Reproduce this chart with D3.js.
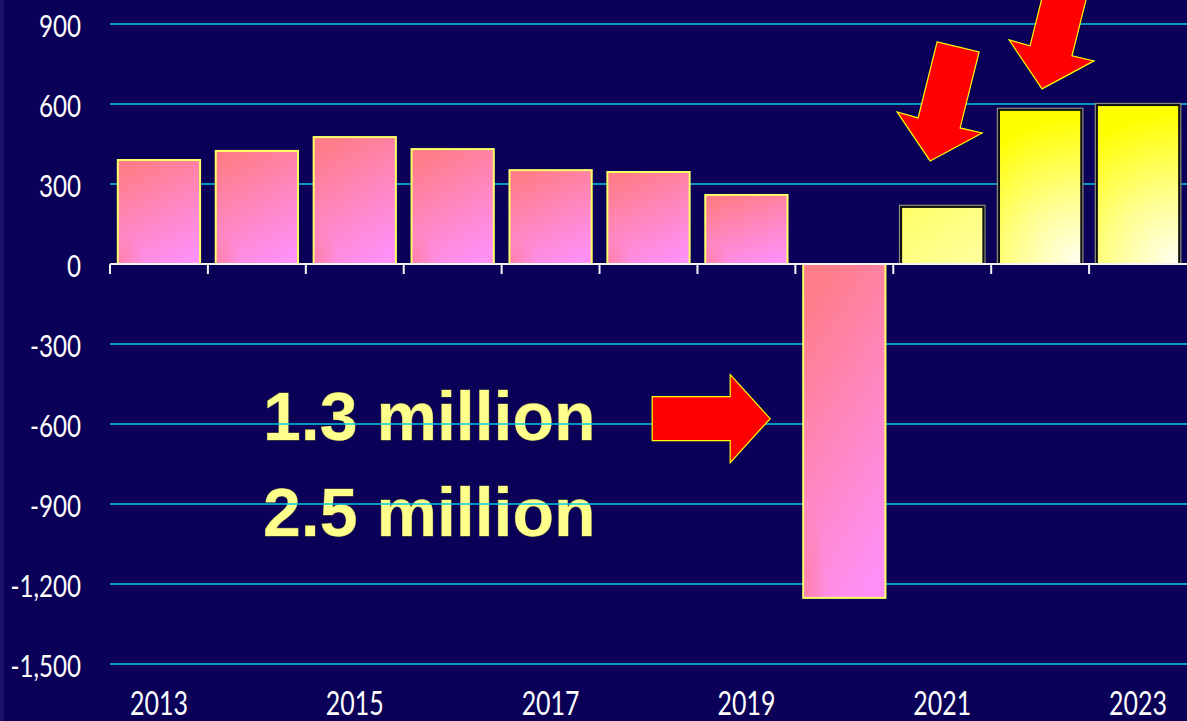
<!DOCTYPE html>
<html>
<head>
<meta charset="utf-8">
<script src="https://cdn.jsdelivr.net/npm/d3@7"></script>
<style>
  html, body { margin: 0; padding: 0; background: #0a0058; overflow: hidden; }
  svg { display: block; }
  .tick-label { font-family: Lato, "Open Sans", sans-serif; fill: #ffffff; }
  .note { font-family: "Liberation Sans", Arial, sans-serif; font-weight: bold; fill: #ffff8c; }
</style>
</head>
<body>
<svg id="chart" width="1187" height="721"></svg>
<script>
// Annual change, thousands
const years = ["2013", "2014", "2015", "2016", "2017", "2018", "2019", "2020", "2021", "2022", "2023"];
const changes = [390, 424, 476, 431, 352, 345, 259, -1252, 214, 578, 596];
const yTicks = [900, 600, 300, 0, -300, -600, -900, -1200, -1500];
const xLabelYears = ["2013", "2015", "2017", "2019", "2021", "2023"];
const notes = ["1.3 million", "2.5 million"];
const noteLevels = [-660, -1020];

const W = 1187, H = 721;
const svg = d3.select("#chart");

const fmt = d3.formatLocale({ decimal: ".", thousands: ",", grouping: [3], currency: ["$", ""], minus: "-" }).format(",");

const x = d3.scaleBand().domain(years).range([110, W]).paddingInner(0.16).paddingOuter(0.08);
const y = d3.scaleLinear().domain([-1500, 900]).range([664, 24]);
const step = x.step();
const half = step * 0.08;
const narrow = 0.78; // horizontal squeeze for the condensed tick font

const data = years.map((yr, i) => ({ year: yr, value: changes[i] }));
const isGold = d => +d.year >= 2021;
const isBright = d => +d.year >= 2022;

// background and left edge strip
svg.append("rect").attr("width", W).attr("height", H).attr("fill", "#0a0058");
svg.append("rect").attr("width", 4).attr("height", H).attr("fill", "#1c116c");

const defs = svg.append("defs");
const pink = defs.append("linearGradient").attr("id", "pinkFill")
  .attr("x1", 0.3).attr("y1", 0).attr("x2", 0.7).attr("y2", 1);
pink.append("stop").attr("offset", 0).attr("stop-color", "#ff7d88");
pink.append("stop").attr("offset", 1).attr("stop-color", "#ff90f6");
const pinkCorner = defs.append("radialGradient").attr("id", "pinkCorner")
  .attr("cx", 0).attr("cy", 1).attr("r", 0.3);
pinkCorner.append("stop").attr("offset", 0).attr("stop-color", "#ff7a8a").attr("stop-opacity", 0.6);
pinkCorner.append("stop").attr("offset", 1).attr("stop-color", "#ff7a8a").attr("stop-opacity", 0);

// bright bars: white glow from the bottom-right corner fading to yellow
const goldGrads = defs.selectAll("radialGradient.gold").data(data.filter(isBright)).join("radialGradient")
  .attr("class", "gold")
  .attr("id", d => "gold" + d.year)
  .attr("gradientUnits", "userSpaceOnUse")
  .attr("cx", d => x(d.year) + x.bandwidth())
  .attr("cy", y(0))
  .attr("r", d => (y(0) - y(d.value)) * 0.95);
goldGrads.append("stop").attr("offset", 0).attr("stop-color", "#fffff4");
goldGrads.append("stop").attr("offset", 0.45).attr("stop-color", "#ffff90");
goldGrads.append("stop").attr("offset", 1).attr("stop-color", "#ffff00");

const pale = defs.append("linearGradient").attr("id", "paleFill")
  .attr("x1", 0).attr("y1", 0).attr("x2", 1).attr("y2", 1);
pale.append("stop").attr("offset", 0).attr("stop-color", "#ffff66");
pale.append("stop").attr("offset", 1).attr("stop-color", "#ffffa0");

// callout text sits beneath the grid
svg.append("g").selectAll("text").data(notes).join("text")
  .attr("class", "note")
  .attr("x", 263)
  .attr("y", (d, i) => y(noteLevels[i]))
  .attr("font-size", 68)
  .attr("stroke", "#6b6a3a").attr("stroke-width", 0.8).attr("paint-order", "stroke")
  .text(d => d);

// horizontal grid
svg.append("g").selectAll("line").data(yTicks.filter(v => v !== 0)).join("line")
  .attr("x1", 110).attr("x2", W)
  .attr("y1", d => y(d)).attr("y2", d => y(d))
  .attr("stroke", "#08c6e4").attr("stroke-width", 1.5);

// y tick labels
svg.append("g").selectAll("text").data(yTicks).join("text")
  .attr("class", "tick-label")
  .attr("transform", d => `translate(81,${y(d) + 1}) scale(${narrow},1)`)
  .attr("text-anchor", "end").attr("dominant-baseline", "central")
  .attr("font-size", 31)
  .text(d => fmt(d));

// bars
const bars = svg.append("g");
bars.selectAll("rect.shadow").data(data.filter(isGold)).join("rect")
  .attr("class", "shadow")
  .attr("x", d => x(d.year) - 1.5)
  .attr("y", d => y(d.value) - 1.5)
  .attr("width", x.bandwidth() + 3)
  .attr("height", d => y(0) - y(d.value) + 1.5)
  .attr("fill", "none").attr("stroke", "#8a8a7a").attr("stroke-width", 1.5);
bars.selectAll("rect.bar").data(data).join("rect")
  .attr("class", "bar")
  .attr("x", d => x(d.year))
  .attr("y", d => y(Math.max(0, d.value)))
  .attr("width", x.bandwidth())
  .attr("height", d => Math.abs(y(d.value) - y(0)))
  .attr("fill", d => isBright(d) ? `url(#gold${d.year})` : isGold(d) ? "url(#paleFill)" : "url(#pinkFill)")
  .attr("stroke", d => isGold(d) ? "#111111" : "#ffff66")
  .attr("stroke-width", 2);
bars.selectAll("rect.corner").data(data.filter(d => !isGold(d))).join("rect")
  .attr("class", "corner")
  .attr("x", d => x(d.year) + 1)
  .attr("y", d => y(Math.max(0, d.value)) + 1)
  .attr("width", x.bandwidth() - 2)
  .attr("height", d => Math.abs(y(d.value) - y(0)) - 2)
  .attr("fill", "url(#pinkCorner)");

// zero axis with ticks at band boundaries
const axisG = svg.append("g");
axisG.append("line").attr("x1", 110).attr("x2", W).attr("y1", y(0)).attr("y2", y(0))
  .attr("stroke", "#f4f4f4").attr("stroke-width", 2);
axisG.selectAll("line.tick").data(years).join("line")
  .attr("class", "tick")
  .attr("x1", d => x(d) - half).attr("x2", d => x(d) - half)
  .attr("y1", y(0)).attr("y2", y(0) + 10)
  .attr("stroke", "#f4f4f4").attr("stroke-width", 2);

// x labels, every other year
svg.append("g").selectAll("text").data(xLabelYears).join("text")
  .attr("class", "tick-label")
  .attr("transform", d => `translate(${x(d) + x.bandwidth() / 2},715) scale(${narrow},1)`)
  .attr("text-anchor", "middle")
  .attr("font-size", 32)
  .text(d => d);

// callout arrows
const downArrow = [[7, -119], [49, -109], [30, -33], [52, -28], [0, 0], [-33, -49], [-12, -43]];
const rightArrow = [[-118, -22], [-40, -22], [-40, -44], [0, 0], [-40, 44], [-40, 22], [-118, 22]];
const arrowAt = (shape, tx, ty) => shape.map(p => [p[0] + tx, p[1] + ty]);
const arrows = [
  arrowAt(downArrow, x("2021") + 29, y(changes[8]) - 46),
  arrowAt(downArrow, x("2022") + 43, y(changes[9]) - 21),
  arrowAt(rightArrow, x("2020") - 33, y(-580))
];
svg.append("g").selectAll("path").data(arrows).join("path")
  .attr("d", d => d3.line()(d) + "Z")
  .attr("fill", "#ff0000").attr("stroke", "#ffff00").attr("stroke-width", 1.2)
  .attr("stroke-linejoin", "miter");
</script>
</body>
</html>
